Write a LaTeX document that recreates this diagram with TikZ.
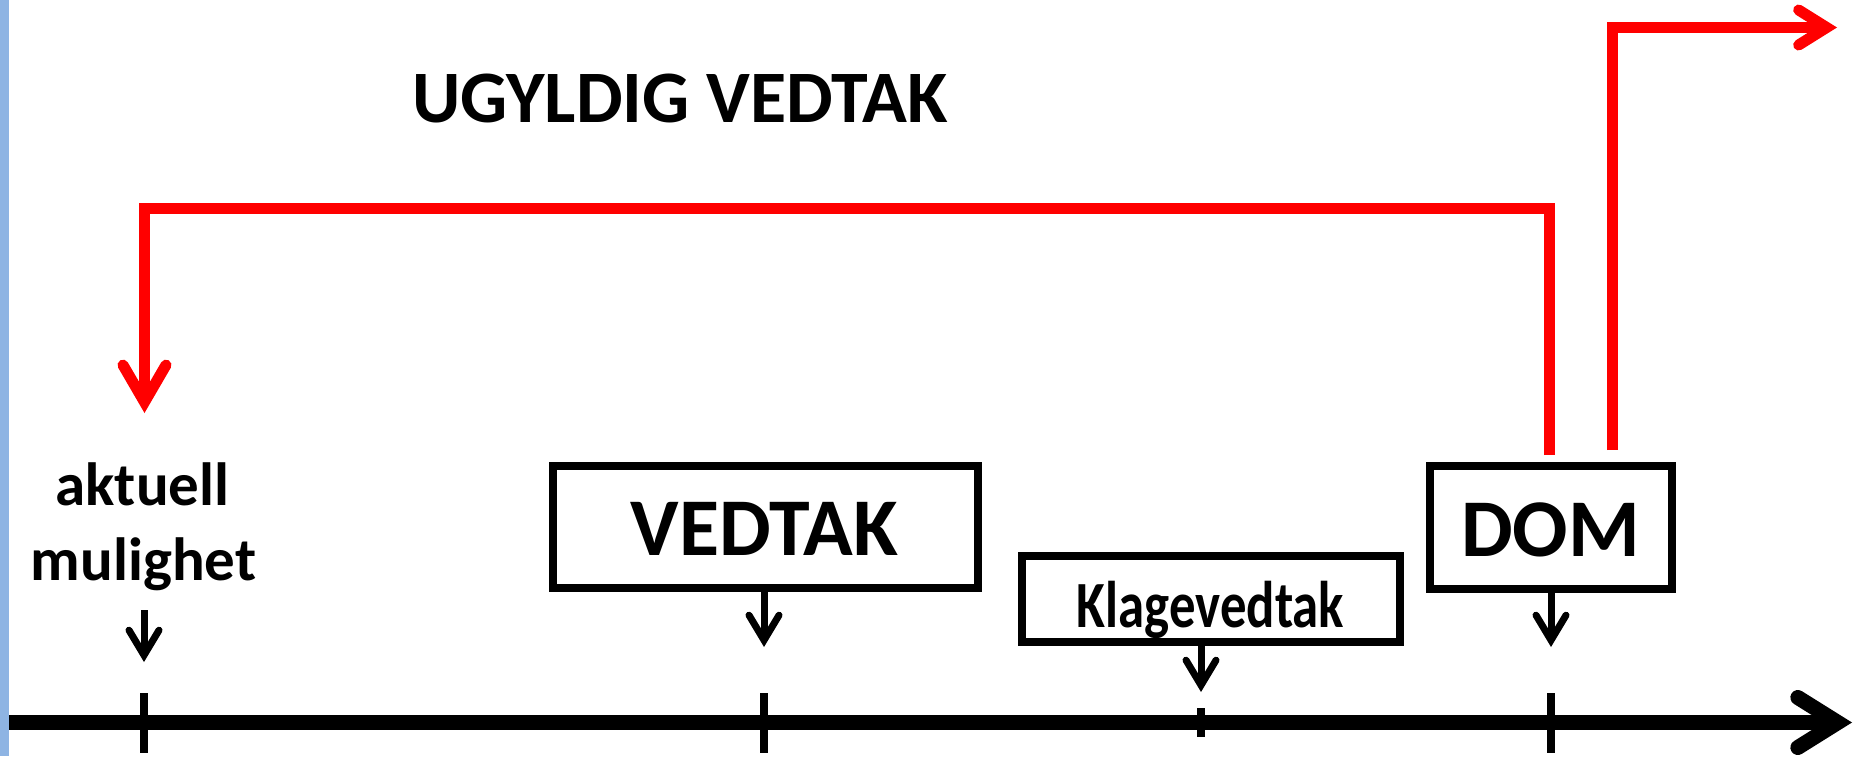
\documentclass[tikz,border=0pt]{standalone}
\usepackage{fontspec}
\setmainfont{Carlito}
\usetikzlibrary{arrows.meta}
\definecolor{stripe}{RGB}{142,180,227}
\definecolor{redline}{RGB}{255,0,0}
\begin{document}
\begin{tikzpicture}[x=0.5pt,y=-0.5pt,
  boxnode/.style={draw=black, line width=4pt, rectangle, inner sep=0pt},
  lbl/.style={anchor=base, inner sep=0pt},
  smallarrow/.style={line width=3.5pt, -{Straight Barb[length=12.5pt,width=15pt,line cap=round]}},
  tickmark/.style={line width=3.75pt},
  timeline/.style={line width=7.5pt, -{Straight Barb[length=20pt,width=25pt,line cap=round]}},
  redpath/.style={draw=redline, line width=5.5pt},
]
\useasboundingbox (0,0) rectangle (1853,756);
\fill[stripe] (0,0) rectangle (9,756);

% boxes
\node[boxnode, minimum width=212.25pt, minimum height=61pt] (vedtak) at (765.25,527) {};
\node[boxnode, minimum width=121pt, minimum height=61.5pt] (dom) at (1551,527.5) {};
\node[boxnode, minimum width=189pt, minimum height=42.75pt] (klage) at (1211,598.75) {};

% texts
\node[lbl, font=\bfseries\fontsize{37pt}{37pt}\selectfont] (ugyldig) at (680,122) {UGYLDIG VEDTAK};
\node[lbl, font=\bfseries\fontsize{41pt}{41pt}\selectfont] (vedtakTxt) at (764.5,555) {VEDTAK};
\node[lbl, font=\bfseries\fontsize{41pt}{41pt}\selectfont] (domTxt) at (1550.5,556) {DOM};
\node[lbl, font=\bfseries\fontsize{33pt}{33pt}\selectfont, xscale=0.8] (klageTxt) at (1210.5,627) {Klagevedtak};
\node[lbl, font=\bfseries\fontsize{30.5pt}{30.5pt}\selectfont] (aktuell) at (142.5,505) {aktuell};
\node[lbl, font=\bfseries\fontsize{30.5pt}{30.5pt}\selectfont] (mulighet) at (143.5,580) {mulighet};

% timeline
\coordinate (tlS) at (9,722.5);
\coordinate (tlE) at (1852,722.5);
\draw[timeline] (tlS) -- (tlE);

% ticks
\coordinate (k1) at (144,722.5);
\coordinate (k2) at (764,722.5);
\coordinate (k3) at (1201,722.5);
\coordinate (k4) at (1551,722.5);
\draw[tickmark] (k1) ++(0,-29.5) -- ++(0,60);
\draw[tickmark] (k2) ++(0,-29.5) -- ++(0,60);
\draw[tickmark] (k3) ++(0,-14.5) -- ++(0,29);
\draw[tickmark] (k4) ++(0,-29.5) -- ++(0,60);

% small arrows
\coordinate (aS) at (144,610);
\coordinate (aT) at (144,662);
\coordinate (vT) at (764,647);
\coordinate (kT) at (1201,692);
\coordinate (dT) at (1551,647);
\draw[smallarrow] (aS) -- (aT);
\draw[smallarrow] (vedtak.south -| vT) -- (vT);
\draw[smallarrow] (klage.south -| kT) -- (kT);
\draw[smallarrow] (dom.south -| dT) -- (dT);

% red paths
\coordinate (r1S) at (1549,455);
\coordinate (r1T) at (144.5,413);
\coordinate (r1top) at (0,208.5);
\draw[redpath, -{Straight Barb[length=18.5pt,width=21.5pt,line cap=round]}]
  (r1S) -- (r1S |- r1top) -- (r1T |- r1top) -- (r1T);
\coordinate (r2S) at (1612,450);
\coordinate (r2T) at (1837,27.5);
\draw[redpath, -{Straight Barb[length=14pt,width=17.5pt,line cap=round]}]
  (r2S) |- (r2T);
\end{tikzpicture}
\end{document}
